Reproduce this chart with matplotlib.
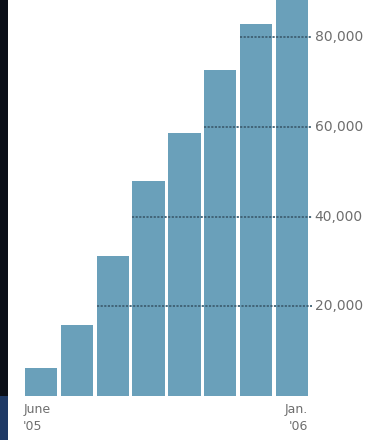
import matplotlib.pyplot as plt
from matplotlib.patches import Rectangle

# monthly totals, June '05 .. Jan. '06
months = ["June\n'05", "", "", "", "", "", "", "Jan.\n'06"]
values = [6200, 15800, 31200, 47900, 58600, 72700, 82900, 90000]
ticks = [20000, 40000, 60000, 80000]
tick_labels = ["20,000", "40,000", "60,000", "80,000"]

BAR = "#6aa0ba"
GRID = "#3e5f72"
TEXT = "#6e6e6e"

fig = plt.figure(figsize=(3.76, 4.40), dpi=100)
fig.patch.set_facecolor("white")

# dark strip on the left edge of the scan
fig.patches.append(Rectangle((0, 0.1), 8 / 376, 0.9, transform=fig.transFigure,
                             facecolor="#0b0f18", edgecolor="none", zorder=0))
fig.patches.append(Rectangle((0, 0), 8 / 376, 0.1, transform=fig.transFigure,
                             facecolor="#1f3a66", edgecolor="none", zorder=0))

ax = fig.add_axes([25 / 376, 44 / 440, (308 - 25) / 376, 396 / 440])
x = list(range(len(values)))
ax.bar(x, values, width=0.9, color=BAR, zorder=1)

ax.set_xlim(-0.45, 7.45)
ax.set_ylim(0, 88300)

# dotted gridlines only over the bars that reach them
for t, lab in zip(ticks, tick_labels):
    first = next(i for i, v in enumerate(values) if v > t)
    ax.plot([first - 0.45, 7.55], [t, t], color=GRID, linestyle=(0, (1.2, 0.8)),
            linewidth=1.3, clip_on=False, zorder=2)
    ax.text(7.64, t, lab, ha="left", va="center", fontsize=10, color=TEXT,
            family="DejaVu Sans")

ax.text(-0.5, -1500, months[0], ha="left", va="top", fontsize=9, color=TEXT,
        family="DejaVu Sans", linespacing=1.4)
ax.text(7.45, -1500, months[-1], ha="right", va="top", fontsize=9, color=TEXT,
        family="DejaVu Sans", linespacing=1.4, multialignment="right")

ax.set_xticks([])
ax.set_yticks([])
for s in ax.spines.values():
    s.set_visible(False)
ax.patch.set_alpha(0)

fig.savefig("out.png", dpi=100)
